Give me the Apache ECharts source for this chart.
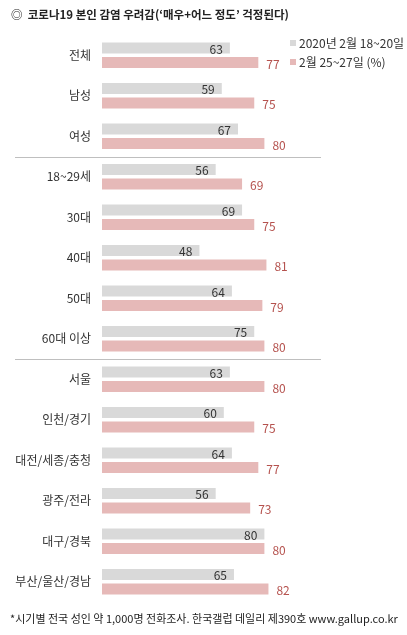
<!DOCTYPE html>
<html><head><meta charset="utf-8">
<script src="https://cdn.jsdelivr.net/npm/echarts@6/dist/echarts.min.js"></script>
<style>html,body{margin:0;padding:0;background:#fff}#c{width:407px;height:635px}</style>
</head><body><div id="c"></div>
<script>
const categories = ['전체','남성','여성','18~29세','30대','40대','50대','60대 이상','서울','인천/경기','대전/세종/충청','광주/전라','대구/경북','부산/울산/경남'];
const seriesNames = ['2020년 2월 18~20일','2월 25~27일 (%)'];
const feb18 = [63,59,67,56,69,48,64,75,63,60,64,56,80,65];
const feb25 = [77,75,80,69,75,81,79,80,80,75,77,73,80,82];
const separatorsAfter = [2,7];
const titleText = '◎  코로나19 본인 감염 우려감(‘매우+어느 정도’ 걱정된다)';
const footText = '*시기별 전국 성인 약 1,000명 전화조사. 한국갤럽 데일리 제390호 www.gallup.co.kr';

const FONT = '"Noto Sans CJK KR", "Noto Sans", sans-serif';
const chart = echarts.init(document.getElementById('c'));
chart.setOption({
  animation:false,
  textStyle:{fontFamily:FONT},
  title:[
    {text:titleText,left:6,top:4,textStyle:{fontSize:11.5,fontWeight:'bold',color:'#222',fontFamily:FONT}},
    {text:footText,left:5,top:608,textStyle:{fontSize:11,fontWeight:'normal',color:'#222',fontFamily:FONT}}
  ],
  legend:{orient:'vertical',left:285,top:32,itemWidth:6,itemHeight:6,itemGap:7,icon:'rect',
    textStyle:{fontSize:12,color:'#333',padding:[0,0,0,-2]},data:seriesNames},
  grid:{left:102,top:35,width:203,height:567},
  xAxis:{type:'value',min:0,max:100,show:false},
  yAxis:{type:'category',data:categories,inverse:true,
    axisLine:{show:false},axisTick:{show:false},
    axisLabel:{color:'#333',fontSize:12,margin:11}},
  series:[
    {name:seriesNames[0],type:'bar',data:feb18,barWidth:11,barGap:'30%',
     itemStyle:{color:'#d9d9d9'},
     label:{show:true,position:'insideRight',distance:7,offset:[0,1],color:'#333',fontSize:12}},
    {name:seriesNames[1],type:'bar',data:feb25,barWidth:11,barGap:'30%',
     itemStyle:{color:'#e6b9b8'},
     label:{show:true,position:'right',distance:8,offset:[0,2],color:'#b5524e',fontSize:12}}
  ]
});
const g = [];
separatorsAfter.forEach(function(i){
  const y1 = chart.convertToPixel({yAxisIndex:0}, categories[i]);
  const y2 = chart.convertToPixel({yAxisIndex:0}, categories[i+1]);
  const y = Math.round((y1+y2)/2)+0.5;
  g.push({type:'line',shape:{x1:15,y1:y,x2:321,y2:y},style:{stroke:'#bfbfbf',lineWidth:1}});
});
chart.setOption({graphic:g});
</script></body></html>
